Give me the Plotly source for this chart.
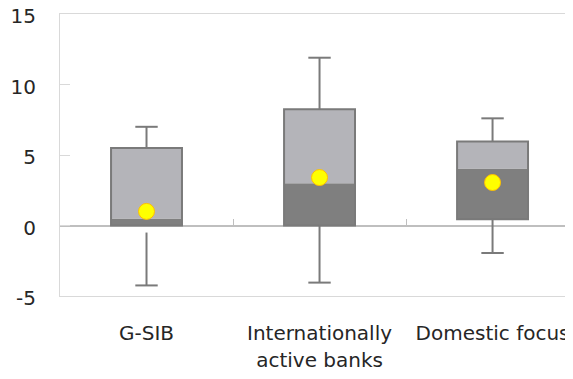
import plotly.graph_objects as go

label_line1 = ["G-SIB", "Internationally", "Domestic focus"]
label_line2 = ["", "active banks", ""]
whisker_high = [7.0, 11.9, 7.6]
box_high = [5.5, 8.25, 5.95]
median = [0.5, 3.0, 4.05]
box_low = [0.0, 0.0, 0.45]
whisker_low_start = [-0.5, 0.0, 0.45]
whisker_low = [-4.25, -4.05, -1.95]
mean = [1.0, 3.4, 3.05]
y_ticks = [-5, 0, 5, 10, 15]
y_ticktext = ["-5", "0", "5", "10", "15"]

xpos = list(range(len(label_line1)))
BOX_W = 0.41
EDGE = "#7a7a7a"
FONT = "DejaVu Sans"

fig = go.Figure()

# lower part of box (box_low -> median)
fig.add_trace(go.Bar(
    x=xpos, y=[m - l for m, l in zip(median, box_low)], base=box_low,
    width=BOX_W, marker=dict(color="#7f7f7f", line=dict(width=0)),
    hoverinfo="skip", showlegend=False))
# upper part of box (median -> box_high)
fig.add_trace(go.Bar(
    x=xpos, y=[h - m for h, m in zip(box_high, median)], base=median,
    width=BOX_W, marker=dict(color="#b4b4b9", line=dict(width=0)),
    hoverinfo="skip", showlegend=False))
# outline
fig.add_trace(go.Bar(
    x=xpos, y=[h - l for h, l in zip(box_high, box_low)], base=box_low,
    width=BOX_W, marker=dict(color="rgba(0,0,0,0)", line=dict(color=EDGE, width=2)),
    hoverinfo="skip", showlegend=False))

# whisker stems
wx, wy = [], []
for i in xpos:
    wx += [i, i, None, i, i, None]
    wy += [box_high[i], whisker_high[i], None, whisker_low_start[i], whisker_low[i], None]
fig.add_trace(go.Scatter(x=wx, y=wy, mode="lines", line=dict(color=EDGE, width=2),
                         hoverinfo="skip", showlegend=False))
# whisker caps
fig.add_trace(go.Scatter(
    x=xpos + xpos, y=whisker_high + whisker_low, mode="markers", xaxis="x3",
    marker=dict(symbol="line-ew", size=16, line=dict(color=EDGE, width=2)),
    hoverinfo="skip", showlegend=False))
# mean
fig.add_trace(go.Scatter(
    x=xpos, y=mean, mode="markers", xaxis="x2",
    marker=dict(size=16, color="#ffff00", line=dict(color="#ffc000", width=1)),
    showlegend=False))

x_range = [-0.5, 2.465]
fig.update_layout(
    width=573, height=379,
    margin=dict(l=52, r=8, t=6, b=91),
    paper_bgcolor="white", plot_bgcolor="white",
    barmode="overlay",
    font=dict(family=FONT, size=20, color="#262626"),
    xaxis=dict(range=x_range, tickvals=xpos, ticktext=label_line1,
               showgrid=False, zeroline=False, ticks="", automargin=False,
               showline=True, linecolor="#d9d9d9", linewidth=1, mirror=True,
               ticklabelstandoff=19, ticklabeloverflow="allow"),
    xaxis2=dict(range=x_range, overlaying="x", anchor="free", position=0.25,
                matches="x", tickvals=[0.5, 1.5], ticks="inside", ticklen=7,
                tickcolor="#bfbfbf", showticklabels=False, showgrid=False,
                zeroline=False, showline=False, automargin=False),
    xaxis3=dict(range=x_range, overlaying="x", anchor="free", position=0,
                matches="x", tickvals=xpos, ticktext=label_line2, ticks="",
                showgrid=False, zeroline=False, showline=False, automargin=False,
                ticklabelstandoff=50, ticklabeloverflow="allow"),
    yaxis=dict(range=[-5, 15], tickvals=y_ticks, ticktext=y_ticktext,
               showgrid=False, automargin=False,
               zeroline=True, zerolinecolor="#bfbfbf", zerolinewidth=1.5,
               showline=True, linecolor="#d9d9d9", linewidth=1,
               ticks="inside", ticklen=10, tickcolor="#d9d9d9",
               ticklabelstandoff=19, ticklabelshift=2, ticklabeloverflow="allow"),
)

fig.write_html("out.html")
